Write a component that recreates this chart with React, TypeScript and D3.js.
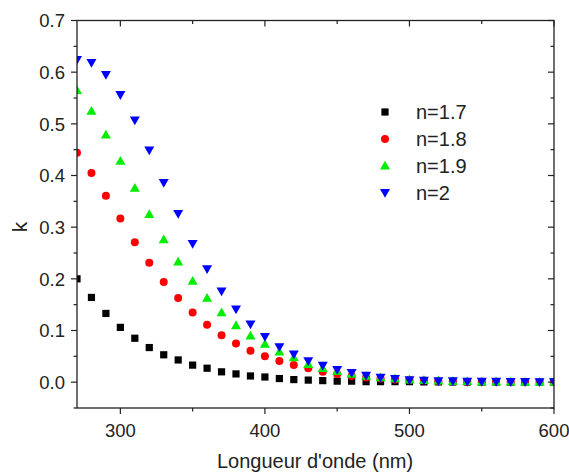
import React from "react";
import * as d3 from "d3";

const wavelengths = d3.range(270, 601, 10);
const seriesNames = ["n=1.7", "n=1.8", "n=1.9", "n=2"];
const k17 = [0.200, 0.164, 0.133, 0.106, 0.085, 0.067, 0.053, 0.043, 0.033, 0.027, 0.020, 0.016, 0.012, 0.010, 0.007, 0.005, 0.004, 0.003, 0.002, 0.002, 0.001, 0.001, 0.001, 0.001, 0.0005, 0.0005, 0.0003, 0.0003, 0.0002, 0.0002, 0.0001, 0.0001, 0.0001, 0.0001];
const k18 = [0.444, 0.405, 0.361, 0.317, 0.271, 0.231, 0.194, 0.163, 0.135, 0.111, 0.091, 0.075, 0.061, 0.050, 0.041, 0.033, 0.027, 0.020, 0.016, 0.012, 0.009, 0.007, 0.005, 0.004, 0.003, 0.002, 0.002, 0.001, 0.001, 0.001, 0.0005, 0.0005, 0.0003, 0.0003];
const k19 = [0.565, 0.525, 0.479, 0.428, 0.376, 0.325, 0.276, 0.233, 0.196, 0.163, 0.135, 0.110, 0.090, 0.074, 0.059, 0.048, 0.035, 0.027, 0.021, 0.016, 0.012, 0.009, 0.007, 0.005, 0.004, 0.003, 0.002, 0.002, 0.001, 0.001, 0.001, 0.0005, 0.0005, 0.0003];
const k20 = [0.624, 0.618, 0.595, 0.556, 0.507, 0.449, 0.386, 0.326, 0.268, 0.219, 0.176, 0.141, 0.112, 0.088, 0.068, 0.054, 0.041, 0.032, 0.024, 0.018, 0.013, 0.009, 0.0065, 0.004, 0.003, 0.002, 0.002, 0.001, 0.001, 0.001, 0.0005, 0.0005, 0.0003, 0.0003];
const xTicks = [300, 400, 500, 600];
const xMinorTicks = [350, 450, 550];
const yTicks = [0.0, 0.1, 0.2, 0.3, 0.4, 0.5, 0.6, 0.7];
const yMinorTicks = [-0.05, 0.05, 0.15, 0.25, 0.35, 0.45, 0.55, 0.65];
const xLabel = "Longueur d'onde (nm)";
const yLabel = "k";

const colors = ["#000000", "#ff0000", "#00ee00", "#0000ff"];
const shapes = ["square", "circle", "up", "down"];

function Marker({ shape, x, y, color }: { shape: string; x: number; y: number; color: string }) {
  if (shape === "square") return <rect x={x - 3.6} y={y - 3.6} width={7.2} height={7.2} fill={color} />;
  if (shape === "circle") return <circle cx={x} cy={y} r={4} fill={color} />;
  if (shape === "up") return <path d={`M${x},${y - 5} L${x + 5},${y + 3.8} L${x - 5},${y + 3.8} Z`} fill={color} />;
  return <path d={`M${x},${y + 5} L${x + 5},${y - 3.8} L${x - 5},${y - 3.8} Z`} fill={color} />;
}

export default function App() {
  const W = 569, H = 475;
  const L = 77, R = 554, T = 20.5, B = 408;
  const x = d3.scaleLinear().domain([270, 600]).range([L, R]);
  const y = d3.scaleLinear().domain([-0.05, 0.7]).range([B, T]);
  const data = [k17, k18, k19, k20];
  const axisColor = "#222";
  const font = "'Liberation Sans', Arial, sans-serif";
  const major = 6, minor = 3.5;
  return (
    <svg width={W} height={H} style={{ position: "absolute", left: 0, top: 0, background: "#fff" }} fontFamily={font}>
      <defs>
        <clipPath id="plot"><rect x={L} y={T} width={R - L} height={B - T} /></clipPath>
      </defs>
      <g clipPath="url(#plot)">
        {data.map((s, si) =>
          s.map((v, i) => (
            <Marker key={`${si}-${i}`} shape={shapes[si]} x={x(wavelengths[i])} y={y(v)} color={colors[si]} />
          ))
        )}
      </g>
      <rect x={L} y={T} width={R - L} height={B - T} fill="none" stroke={axisColor} strokeWidth={1.3} />
      {xTicks.map((t) => (
        <g key={`xt${t}`}>
          <line x1={x(t)} x2={x(t)} y1={B} y2={B + major} stroke={axisColor} strokeWidth={1.2} />
          <line x1={x(t)} x2={x(t)} y1={T} y2={T + major} stroke={axisColor} strokeWidth={1.2} />
          <text x={x(t)} y={437} textAnchor="middle" fontSize={18.5} fill="#222">{t}</text>
        </g>
      ))}
      {xMinorTicks.map((t) => (
        <g key={`xm${t}`}>
          <line x1={x(t)} x2={x(t)} y1={B} y2={B + minor} stroke={axisColor} strokeWidth={1.2} />
          <line x1={x(t)} x2={x(t)} y1={T} y2={T + minor} stroke={axisColor} strokeWidth={1.2} />
        </g>
      ))}
      {yTicks.map((t) => (
        <g key={`yt${t}`}>
          <line x1={L - major} x2={L} y1={y(t)} y2={y(t)} stroke={axisColor} strokeWidth={1.2} />
          <line x1={R - major} x2={R} y1={y(t)} y2={y(t)} stroke={axisColor} strokeWidth={1.2} />
          <text x={65} y={y(t) + 6.8} textAnchor="end" fontSize={18.5} fill="#222">{t.toFixed(1)}</text>
        </g>
      ))}
      {yMinorTicks.map((t) => (
        <g key={`ym${t}`}>
          <line x1={L - minor} x2={L} y1={y(t)} y2={y(t)} stroke={axisColor} strokeWidth={1.2} />
          <line x1={R - minor} x2={R} y1={y(t)} y2={y(t)} stroke={axisColor} strokeWidth={1.2} />
        </g>
      ))}
      <text x={315} y={468} textAnchor="middle" fontSize={20} fill="#222">{xLabel}</text>
      <text transform={`translate(27,227) rotate(-90)`} textAnchor="middle" fontSize={21} fill="#222">{yLabel}</text>
      {seriesNames.map((n, i) => (
        <g key={n}>
          <Marker shape={shapes[i]} x={385} y={112 + i * 26.9} color={colors[i]} />
          <text x={416} y={112 + i * 26.9 + 7} fontSize={20} fill="#222">{n}</text>
        </g>
      ))}
    </svg>
  );
}
